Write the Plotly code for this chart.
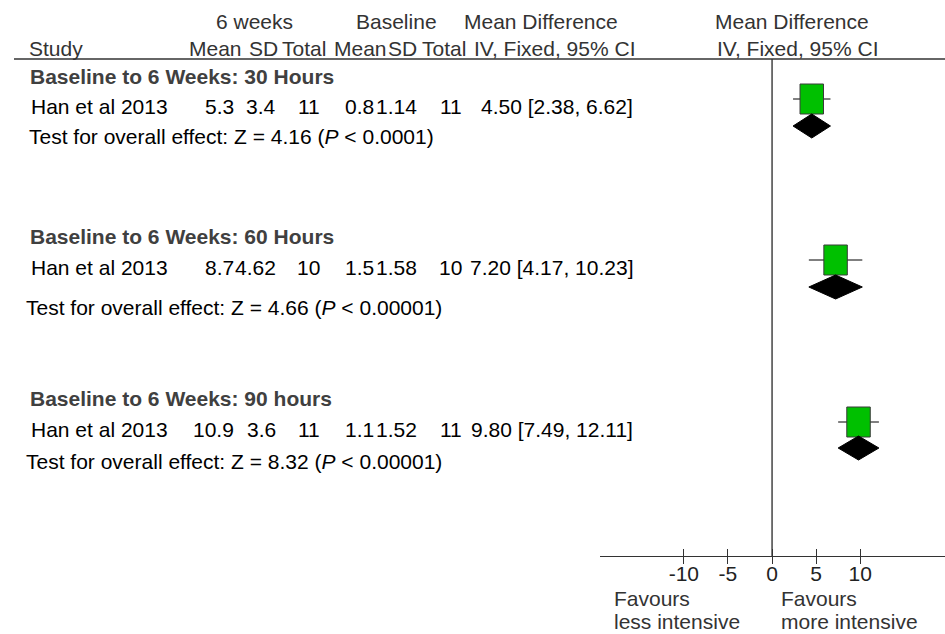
import plotly.graph_objects as go

W, H = 945, 634

# ---------------- data ----------------
group_titles = ["Baseline to 6 Weeks: 30 Hours",
                "Baseline to 6 Weeks: 60 Hours",
                "Baseline to 6 Weeks: 90 hours"]
study_names = ["Han et al 2013", "Han et al 2013", "Han et al 2013"]
wk6_mean = ["5.3", "8.7", "10.9"]
wk6_sd = ["3.4", "4.62", "3.6"]
wk6_total = ["11", "10", "11"]
base_mean = ["0.8", "1.5", "1.1"]
base_sd = ["1.14", "1.58", "1.52"]
base_total = ["11", "10", "11"]
mean_diff = [4.50, 7.20, 9.80]
ci_low = [2.38, 4.17, 7.49]
ci_high = [6.62, 10.23, 12.11]
z_values = ["4.16", "4.66", "8.32"]
p_values = ["0.0001", "0.00001", "0.00001"]
tick_values = [-10, -5, 0, 5, 10]
tick_labels = ["-10", "-5", "0", "5", "10"]

# ---------------- layout positions (pixels) ----------------
group_y = [76, 236, 398]
study_y = [106, 267, 429]
test_y = [136, 307, 461]
ci_y = [99, 260, 422]
diamond_y = [126, 287, 448]
test_x = [28, 25, 25]
axis_y = 556
header_line_y = 59

FONT = "Liberation Sans, Arial, sans-serif"
FS = 21
SQ_HALF_W = 1.33   # data units
SQ_HALF_H = 15     # px
DM_HALF_H = 12     # px

fig = go.Figure()

for i in range(len(mean_diff)):
    # CI line
    fig.add_trace(go.Scatter(
        x=[ci_low[i], ci_high[i]], y=[ci_y[i], ci_y[i]], mode="lines",
        line=dict(color="#000000", width=1), hoverinfo="skip", showlegend=False))
    # square (weight)
    m = mean_diff[i]
    cy = ci_y[i]
    fig.add_trace(go.Scatter(
        x=[m - SQ_HALF_W, m + SQ_HALF_W, m + SQ_HALF_W, m - SQ_HALF_W, m - SQ_HALF_W],
        y=[cy - SQ_HALF_H, cy - SQ_HALF_H, cy + SQ_HALF_H, cy + SQ_HALF_H, cy - SQ_HALF_H],
        mode="lines", fill="toself", fillcolor="#00C000",
        line=dict(color="#3a3a3a", width=1), hoverinfo="skip", showlegend=False))
    # diamond (overall)
    dy = diamond_y[i]
    fig.add_trace(go.Scatter(
        x=[ci_low[i], m, ci_high[i], m, ci_low[i]],
        y=[dy, dy - DM_HALF_H, dy, dy + DM_HALF_H, dy],
        mode="lines", fill="toself", fillcolor="#000000",
        line=dict(color="#000000", width=1), hoverinfo="skip", showlegend=False))

# invisible trace for the overlay axis (inside ticks)
fig.add_trace(go.Scatter(x=[0], y=[axis_y], xaxis="x2", yaxis="y", mode="markers",
                         marker=dict(opacity=0), hoverinfo="skip", showlegend=False))

X_RANGE = [-19.5, 19.6]
axis_pos = 1 - axis_y / H

fig.update_layout(
    width=W, height=H,
    margin=dict(l=0, r=0, t=0, b=0),
    paper_bgcolor="white", plot_bgcolor="white",
    font=dict(family=FONT, size=FS, color="#222222"),
    showlegend=False,
    hovermode=False,
    xaxis=dict(domain=[600 / W, 1], range=X_RANGE, anchor="free", position=axis_pos,
               showline=True, linecolor="#333333", linewidth=1,
               ticks="outside", ticklen=7, tickwidth=1, tickcolor="#333333",
               tickvals=tick_values, ticktext=tick_labels, ticklabelstandoff=-8,
               tickfont=dict(family=FONT, size=FS, color="#222222"),
               showgrid=False, zeroline=False, fixedrange=True),
    xaxis2=dict(domain=[600 / W, 1], range=X_RANGE, anchor="free", position=axis_pos,
                overlaying="x", ticks="inside", ticklen=7, tickwidth=1,
                tickcolor="#333333", tickvals=tick_values, showticklabels=False,
                showline=False, showgrid=False, zeroline=False, fixedrange=True),
    yaxis=dict(domain=[0, 1], range=[H, 0], visible=False, fixedrange=True),
)

# null line and header rule
fig.add_shape(type="line", xref="x", yref="y", x0=0, x1=0, y0=header_line_y, y1=axis_y,
              line=dict(color="#444444", width=1.5), layer="below")
fig.add_shape(type="line", xref="paper", yref="y", x0=14 / W, x1=1,
              y0=header_line_y, y1=header_line_y, line=dict(color="#333333", width=1.5))


def txt(x_px, y_px, text, anchor="left", color="#000000", bold=False):
    fig.add_annotation(xref="paper", yref="y", x=x_px / W, y=y_px,
                       text=f"<b>{text}</b>" if bold else text,
                       xanchor=anchor, yanchor="middle", showarrow=False, borderpad=0,
                       font=dict(family=FONT, size=FS, color=color))


HDR = "#333333"
# header row 1
txt(215, 21, "6 weeks", color=HDR)
txt(355, 21, "Baseline", color=HDR)
txt(463, 21, "Mean Difference", color=HDR)
txt(714, 21, "Mean Difference", color=HDR)
# header row 2
txt(28, 48, "Study", color=HDR)
txt(188, 48, "Mean", color=HDR)
txt(248, 48, "SD", color=HDR)
txt(281, 48, "Total", color=HDR)
txt(333, 48, "Mean", color=HDR)
txt(387, 48, "SD", color=HDR)
txt(421, 48, "Total", color=HDR)
txt(473, 48, "IV, Fixed, 95% CI", color=HDR)
txt(716, 48, "IV, Fixed, 95% CI", color=HDR)

for i in range(len(mean_diff)):
    txt(29, group_y[i], group_titles[i], color="#404040", bold=True)
    yy = study_y[i]
    txt(30, yy, study_names[i])
    txt(235, yy, wk6_mean[i], anchor="right")
    txt(277, yy, wk6_sd[i], anchor="right")
    txt(321, yy, wk6_total[i], anchor="right")
    txt(375, yy, base_mean[i], anchor="right")
    txt(418, yy, base_sd[i], anchor="right")
    txt(463, yy, base_total[i], anchor="right")
    txt(634, yy, f"{mean_diff[i]:.2f} [{ci_low[i]:.2f}, {ci_high[i]:.2f}]", anchor="right")
    txt(test_x[i], test_y[i],
        f"Test for overall effect: Z = {z_values[i]} (<i>P</i> &lt; {p_values[i]})")

# favours labels
txt(613, 598, "Favours", color=HDR)
txt(613, 621.5, "less intensive", color=HDR)
txt(780, 598, "Favours", color=HDR)
txt(780, 621.5, "more intensive", color=HDR)

fig.write_html("out.html")
